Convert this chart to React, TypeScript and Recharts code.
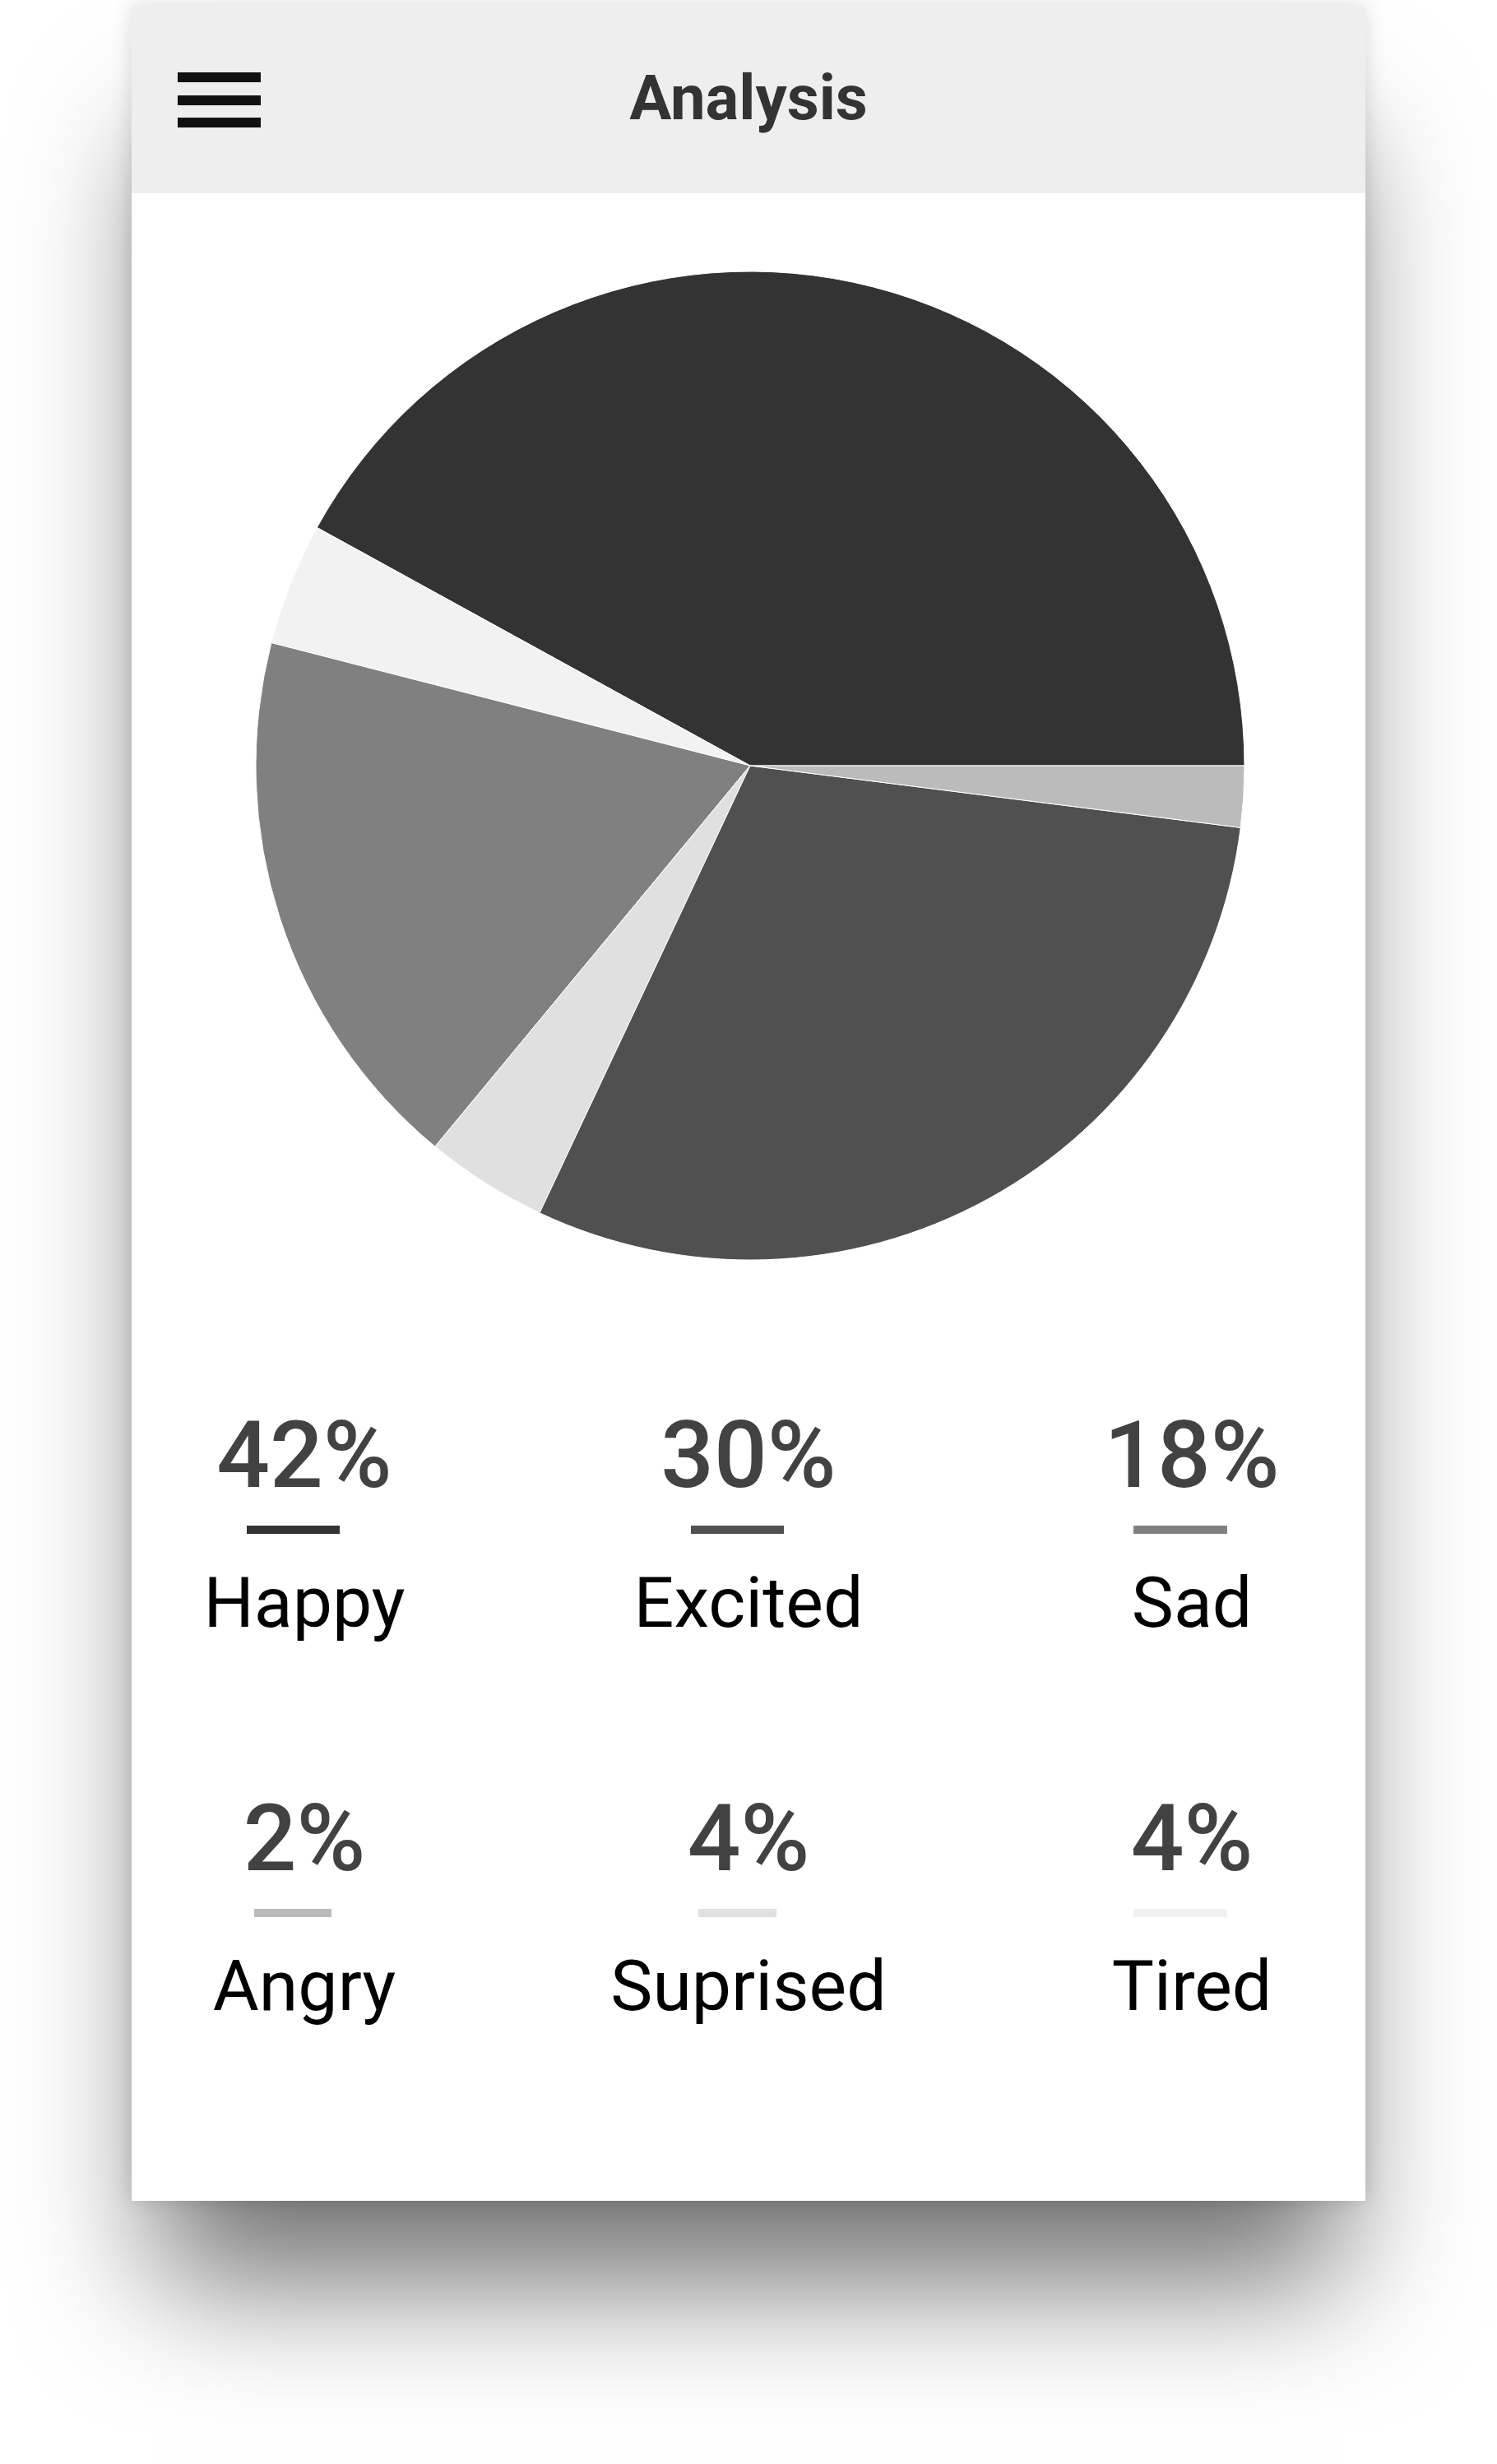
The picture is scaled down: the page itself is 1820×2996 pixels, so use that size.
import React from 'react';
import { PieChart, Pie, Cell } from 'recharts';

// emotion breakdown, legend order
const categories = ['Happy', 'Excited', 'Sad', 'Angry', 'Suprised', 'Tired'];
const percentages = [42, 30, 18, 2, 4, 4];
const shades = ['#333333', '#505050', '#808080', '#bbbbbb', '#e0e0e0', '#f2f2f2'];
// order the slices run round the pie (counter-clockwise from 3 o'clock)
const pieOrder = ['Happy', 'Tired', 'Sad', 'Suprised', 'Excited', 'Angry'];

const pieData = pieOrder.map((name) => {
  const i = categories.indexOf(name);
  return { name, value: percentages[i], fill: shades[i] };
});

// layout of the legend grid (card coordinates)
const colCenters = [210, 750, 1289];
const rowTops = { pct: [1705, 2171], label: [1899, 2365], bar: [1848, 2314] };
const barWidths = [113, 113, 114, 94, 95, 114];
const barOffset = -14;

const FONT = 'Roboto, "Noto Sans", sans-serif';

export default function App() {
  return (
    <div style={{ position: 'absolute', left: 0, top: 0, width: 1820, height: 2996, background: '#fff', fontFamily: FONT }}>
      <div
        style={{
          position: 'absolute',
          left: 160,
          top: 7,
          width: 1500,
          height: 2669,
          background: '#fff',
          boxShadow: '0 130px 150px -30px rgba(0,0,0,0.55), 0 0 24px rgba(0,0,0,0.14)',
          overflow: 'hidden',
        }}
      >
        {/* header */}
        <div style={{ position: 'absolute', left: 0, top: 0, width: 1500, height: 228, background: '#eeeeee' }}>
          {[81, 109, 136].map((y) => (
            <div key={y} style={{ position: 'absolute', left: 56, top: y, width: 101, height: 12, background: '#111' }} />
          ))}
          <div
            style={{
              position: 'absolute',
              left: 0,
              top: 74,
              width: 1500,
              textAlign: 'center',
              fontSize: 76,
              lineHeight: '76px',
              fontWeight: 700,
              color: '#333',
            }}
          >
            Analysis
          </div>
        </div>

        {/* pie */}
        <div style={{ position: 'absolute', left: 0, top: 228, width: 1500, height: 1300 }}>
          <PieChart width={1500} height={1300}>
            <Pie
              data={pieData}
              dataKey="value"
              nameKey="name"
              cx={747}
              cy={691}
              outerRadius={601}
              innerRadius={0}
              startAngle={0}
              endAngle={360}
              stroke="#ffffff"
              strokeWidth={1}
              isAnimationActive={false}
            >
              {pieData.map((d, i) => (
                <Cell key={`cell-${i}`} fill={d.fill} />
              ))}
            </Pie>
          </PieChart>
        </div>

        {/* legend grid */}
        {categories.map((name, i) => {
          const row = Math.floor(i / 3);
          const cx = colCenters[i % 3];
          return (
            <React.Fragment key={name}>
              <div
                style={{
                  position: 'absolute',
                  left: cx - 200,
                  width: 400,
                  top: rowTops.pct[row],
                  textAlign: 'center',
                  fontSize: 114,
                  lineHeight: '114px',
                  fontWeight: 500,
                  color: '#424242',
                }}
              >
                {percentages[i]}%
              </div>
              <div
                style={{
                  position: 'absolute',
                  left: cx + barOffset - barWidths[i] / 2,
                  width: barWidths[i],
                  top: rowTops.bar[row],
                  height: 10,
                  background: shades[i],
                }}
              />
              <div
                style={{
                  position: 'absolute',
                  left: cx - 250,
                  width: 500,
                  top: rowTops.label[row],
                  textAlign: 'center',
                  fontSize: 86,
                  lineHeight: '86px',
                  color: '#000',
                }}
              >
                {name}
              </div>
            </React.Fragment>
          );
        })}
      </div>
    </div>
  );
}
